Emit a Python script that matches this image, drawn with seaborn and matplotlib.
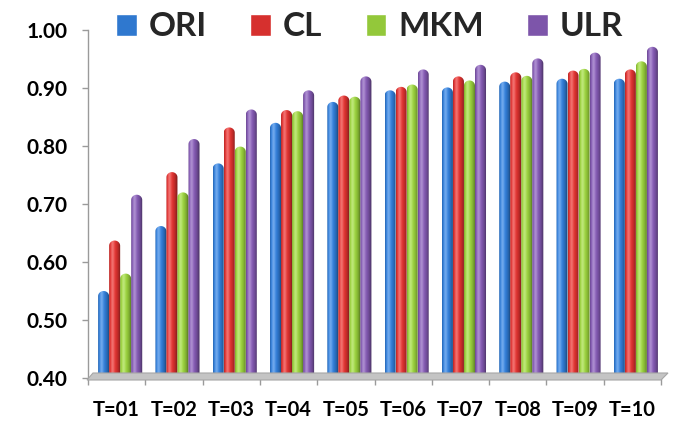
import numpy as np
import pandas as pd
import matplotlib
matplotlib.use("Agg")
import matplotlib.pyplot as plt
import seaborn as sns
from matplotlib.path import Path
from matplotlib.patches import Polygon
from matplotlib.colors import to_rgb
from matplotlib.ticker import FormatStrFormatter
from matplotlib.transforms import ScaledTranslation

# ---- data -------------------------------------------------------------
rounds = ["T=01", "T=02", "T=03", "T=04", "T=05",
          "T=06", "T=07", "T=08", "T=09", "T=10"]
methods = ["ORI", "CL", "MKM", "ULR"]
ori = [0.550, 0.662, 0.770, 0.840, 0.876, 0.896, 0.901, 0.911, 0.916, 0.916]
cl  = [0.637, 0.755, 0.832, 0.862, 0.887, 0.902, 0.920, 0.927, 0.930, 0.932]
mkm = [0.580, 0.720, 0.799, 0.860, 0.885, 0.906, 0.913, 0.921, 0.933, 0.946]
ulr = [0.716, 0.812, 0.863, 0.896, 0.920, 0.932, 0.940, 0.951, 0.961, 0.971]
y_ticks = [0.40, 0.50, 0.60, 0.70, 0.80, 0.90, 1.00]

colors = ["#2F78CF", "#D6302E", "#93C83A", "#7D55AA"]

df = pd.DataFrame({
    "round": rounds * len(methods),
    "method": np.repeat(methods, len(rounds)),
    "score": ori + cl + mkm + ulr,
})

# ---- style ------------------------------------------------------------
sns.set_theme(style="white")
plt.rcParams["font.family"] = ["Lato", "DejaVu Sans"]
plt.rcParams["font.weight"] = "bold"

W, H = 679, 421
fig = plt.figure(figsize=(W / 100, H / 100), dpi=100)
ax = fig.add_axes([88 / W, 1 - 378 / H, (661 - 88) / W, (378 - 30) / H])

sns.barplot(data=df, x="round", y="score", hue="method", palette=colors,
            width=0.77, saturation=1, errorbar=None, ax=ax)

ymin, ymax = y_ticks[0], y_ticks[-1]
ax.set_ylim(ymin, ymax)
ax.set_xlim(-0.5, len(rounds) - 0.5)

# legend built from the bar containers before the flat bars are hidden
handles, labels = ax.get_legend_handles_labels()
ax.legend_.remove()
fig.legend(handles, labels, loc="center left",
           bbox_to_anchor=(116 / W, 1 - 27 / H),
           ncol=4, frameon=False, prop={"size": 24, "weight": "bold"},
           handlelength=0.62, handleheight=0.62, handletextpad=0.36,
           columnspacing=1.3, borderpad=0, borderaxespad=0)


def cylinder_shade(base, n=64):
    """Horizontal shading strip for a lit cylinder of the given colour."""
    base = np.array(to_rgb(base))
    t = np.linspace(-1, 1, n)
    nz = np.sqrt(np.clip(1 - t ** 2, 0, 1))
    light = np.array([-0.45, 1.0])
    light = light / np.linalg.norm(light)
    d = np.clip(t * light[0] + nz * light[1], 0, 1)
    shade = 0.55 + 0.55 * d
    spec = 0.30 * d ** 18
    rgb = base[None, :] * shade[:, None]
    rgb = rgb + spec[:, None] * (1 - rgb)
    return np.clip(rgb, 0, 1)[None, :, :].repeat(2, axis=0)


# slight rightward shift gives the bars their set-back look on the floor
depth = ax.transData + ScaledTranslation(3.5 / 100, 0, fig.dpi_scale_trans)

# capsule-style cylinders clipped to each seaborn bar's geometry
cap = 0.009
for container, col in zip(ax.containers, colors):
    strip = cylinder_shade(col)
    for bar in container:
        x0 = bar.get_x()
        w = bar.get_width()
        top = bar.get_y() + bar.get_height()
        cx = x0 + w / 2
        theta = np.linspace(0, np.pi, 40)
        verts = [(x0, ymin - 0.01), (x0 + w, ymin - 0.01), (x0 + w, top - cap)]
        verts += [(cx + (w / 2) * np.cos(a), top - cap + cap * np.sin(a)) for a in theta]
        verts += [(x0, ymin - 0.01)]
        codes = [Path.MOVETO] + [Path.LINETO] * (len(verts) - 2) + [Path.CLOSEPOLY]
        clip = Path(verts, codes)
        im = ax.imshow(strip, extent=[x0, x0 + w, ymin, top], aspect="auto",
                       origin="lower", interpolation="bilinear", zorder=3)
        im.set_transform(depth)
        im.set_clip_path(clip, transform=depth)
        bar.set_visible(False)

ax.set_ylim(ymin, ymax)
ax.set_xlim(-0.5, len(rounds) - 0.5)
ax.set_aspect("auto")

# ---- axes -------------------------------------------------------------
ax.set_xlabel("")
ax.set_ylabel("")
ax.set_yticks(y_ticks)
ax.yaxis.set_major_formatter(FormatStrFormatter("%.2f"))
ax.set_xticks(range(len(rounds)))
ax.set_xticklabels(rounds)
ax.set_xticks(np.arange(-0.5, len(rounds), 1), minor=True)

for s in ["top", "right", "bottom"]:
    ax.spines[s].set_visible(False)
ax.spines["left"].set_color("#9A9A9A")
ax.spines["left"].set_linewidth(1.0)

ax.tick_params(axis="y", left=True, direction="out", length=4, width=1,
               color="#9A9A9A", labelsize=15, pad=11, labelcolor="black")
ax.tick_params(axis="x", which="major", bottom=True, length=0, labelsize=14.5,
               pad=16, labelcolor="black")
ax.tick_params(axis="x", which="minor", bottom=True, direction="out", length=5,
               width=1, color="#9A9A9A")
for lab in ax.get_xticklabels() + ax.get_yticklabels():
    lab.set_fontweight("bold")

# thin grey floor under the bars
floor = [(87, 380), (661, 380), (668, 373), (93, 373)]
fig.patches.append(Polygon([(x / W, 1 - y / H) for x, y in floor], closed=True,
                           transform=fig.transFigure, facecolor="#C4C4C4",
                           edgecolor="#A6A6A6", linewidth=0.8, zorder=1))

fig.savefig("out.png", dpi=100)
